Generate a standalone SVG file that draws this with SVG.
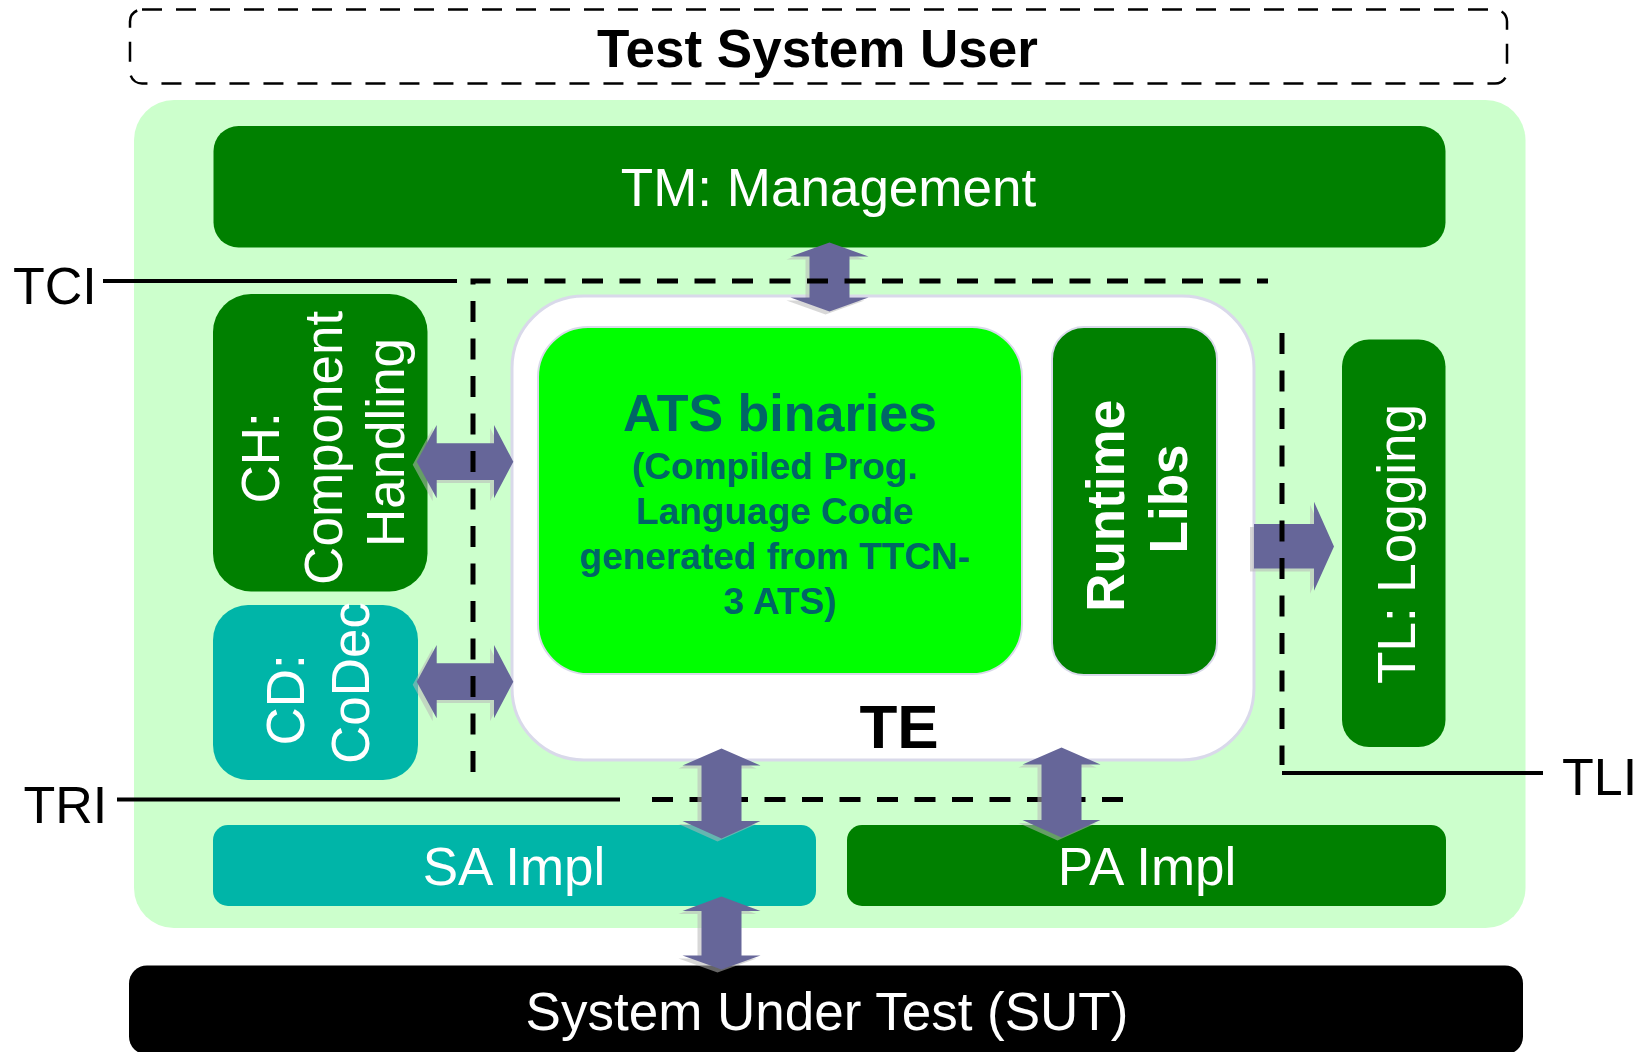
<svg xmlns="http://www.w3.org/2000/svg" width="1648" height="1052" viewBox="0 0 1648 1052">
<defs>
<style>
text{font-family:"Liberation Sans",Arial,sans-serif}
.w{fill:#fff;font-size:53px}
.k{fill:#000;font-size:52px}
.c{text-anchor:middle}
.b{font-weight:bold}
.dg{fill:#008000}
.tl{fill:#00B5A8}
.ln{stroke:#000;fill:none;stroke-width:4}
.dash{stroke:#000;fill:none;stroke-width:5;stroke-dasharray:21 16.5}
.arr{fill:#666699}
.sh{fill:#B8B8B8;opacity:0.55}
.ats{fill:#006666;font-weight:bold;text-anchor:middle}
</style>
<polygon id="vTM" points="829.5,242.5 868.5,256.5 849.5,256.5 849.5,297.5 868.5,297.5 829.5,311.5 790.5,297.5 809.5,297.5 809.5,256.5 790.5,256.5"/>
<polygon id="vSA" points="721.5,748.5 760.5,765.5 741.5,765.5 741.5,821 760.5,821 721.5,838.5 682.5,821 701.5,821 701.5,765.5 682.5,765.5"/>
<polygon id="vSUT" points="721.5,896.5 760.5,911 741.5,911 741.5,955.5 760.5,955.5 721.5,969.5 682.5,955.5 701.5,955.5 701.5,911 682.5,911"/>
<polygon id="vPA" points="1061.5,747.5 1100.5,764.5 1081.5,764.5 1081.5,820 1100.5,820 1061.5,837.5 1022.5,820 1041.5,820 1041.5,764.5 1022.5,764.5"/>
<polygon id="hCH" points="416.7,461.7 436.7,425 436.7,443.3 494,443.3 494,425 513.3,461.7 494,498.3 494,480 436.7,480 436.7,498.3"/>
<polygon id="hCD" points="416.7,681.7 436.7,645 436.7,663.3 494,663.3 494,645 513.3,681.7 494,718.3 494,700 436.7,700 436.7,718.3"/>
<polygon id="hTL" points="1254,524 1314,524 1314,501.7 1334,546.5 1314,590.7 1314,568.5 1254,568.5"/>
</defs>
<rect width="1648" height="1052" fill="#fff"/>

<g id="user">
<rect x="130" y="9.5" width="1377" height="74" rx="12" fill="#fff" stroke="#000" stroke-width="2.5" stroke-dasharray="20 14"/>
<text x="817.5" y="67" class="c b" font-size="53">Test System User</text>
</g>

<g id="testsystem">
<rect x="134" y="100" width="1391.5" height="828" rx="40" fill="#CCFFCC"/>
</g>

<g id="TM">
<rect x="213.5" y="126" width="1232" height="121.5" rx="25" class="dg"/>
<text x="828.5" y="206" class="w c">TM: Management</text>
</g>

<g id="CH">
<rect x="213" y="294" width="214.5" height="297.5" rx="38" class="dg"/>
<text transform="rotate(-90)" class="w c">
<tspan x="-450.5" y="278.5">CH:</tspan>
<tspan x="-440.5" y="342">Component</tspan>
<tspan x="-442.5" y="404">Handling</tspan>
</text>
</g>

<g id="CD">
<rect x="213" y="605" width="205" height="175" rx="35" class="tl"/>
<text transform="rotate(-90)" class="w c">
<tspan x="-692.5" y="303.5">CD:</tspan>
<tspan x="-683" y="368.5">CoDec</tspan>
</text>
</g>

<g id="TE">
<rect x="512" y="296" width="742" height="464" rx="72" fill="#fff" stroke="#D9D9EA" stroke-width="3"/>
<text x="899" y="747.5" class="c b" font-size="62">TE</text>
</g>

<g id="ATS">
<rect x="538" y="327" width="484" height="347" rx="50" fill="#00FF00" stroke="#D9D9EA" stroke-width="2"/>
<text x="780" y="431" class="ats" font-size="52">ATS binaries</text>
<text class="ats" font-size="37">
<tspan x="780" y="478.5">(Compiled Prog.</tspan>
<tspan x="780" y="523.5">Language Code</tspan>
<tspan x="780" y="568.5">generated from TTCN-</tspan>
<tspan x="780" y="613.5">3 ATS)</tspan>
</text>
</g>

<g id="Runtime">
<rect x="1052" y="327" width="165" height="348" rx="32" class="dg" stroke="#D9D9EA" stroke-width="2"/>
<text transform="rotate(-90)" class="w c b" font-size="52.5">
<tspan x="-498.5" y="1123.5">Runtime</tspan>
<tspan x="-499" y="1187">Libs</tspan>
</text>
</g>

<g id="TL">
<rect x="1342" y="339.5" width="103.5" height="407.5" rx="27" class="dg"/>
<text transform="rotate(-90)" x="-544" y="1415" class="w c">TL: Logging</text>
</g>

<g id="SA">
<rect x="213" y="825" width="603" height="81" rx="15" class="tl"/>
<text x="514" y="885" class="w c">SA Impl</text>
</g>

<g id="PA">
<rect x="847" y="825" width="599" height="81" rx="15" class="dg"/>
<text x="1147" y="885" class="w c">PA Impl</text>
</g>

<g id="SUT">
<rect x="129" y="965.5" width="1394" height="89" rx="18" fill="#000"/>
<text x="827" y="1030" class="w c">System Under Test (SUT)</text>
</g>

<g id="connectors">
<path class="ln" d="M117 799.5 H620"/>
<path class="dash" d="M652 799.5 H1138" stroke-dasharray="22 20.2"/>
<g transform="translate(-4,3)" class="sh">
<use href="#vTM"/><use href="#vSA"/><use href="#vSUT"/><use href="#vPA"/><use href="#hCH"/><use href="#hCD"/><use href="#hTL"/>
</g>
<g class="arr">
<use href="#vTM"/><use href="#vSA"/><use href="#vSUT"/><use href="#vPA"/><use href="#hCH"/><use href="#hCD"/><use href="#hTL"/>
</g>
<path class="ln" d="M103 281 H457"/>
<path class="dash" d="M473 772 V281 H1268"/>
<path class="dash" d="M1282 333 V765"/>
<path class="ln" d="M1282 773 H1543"/>
</g>

<g id="labels">
<text x="13" y="304" class="k">TCI</text>
<text x="23.5" y="823" class="k">TRI</text>
<text x="1562" y="795" class="k">TLI</text>
</g>
</svg>
